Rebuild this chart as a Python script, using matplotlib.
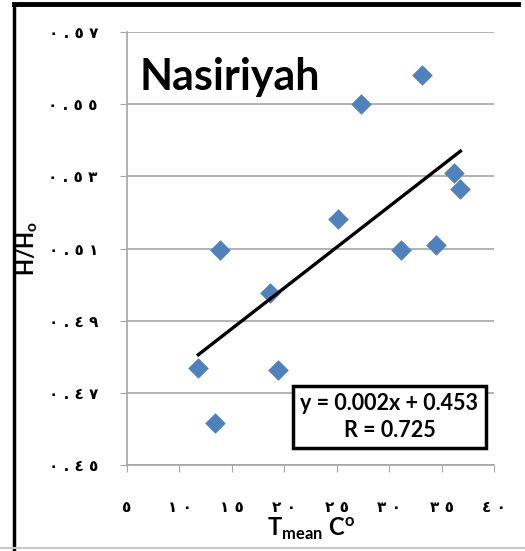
import matplotlib.pyplot as plt
import numpy as np
from matplotlib.lines import Line2D

# Data
t_mean = np.array([11.8, 13.4, 13.9, 18.6, 19.4, 25.1, 27.3, 31.1, 33.1, 34.5, 36.2, 36.8])
h_ratio = np.array([0.477, 0.4617, 0.5097, 0.4978, 0.4764, 0.5183, 0.5500, 0.5097,
                    0.5581, 0.5111, 0.5308, 0.5264])
x_ticks = [5, 10, 15, 20, 25, 30, 35, 40]
x_ticklabels = ["٥", "١ ٠", "١ ٥", "٢ ٠", "٢ ٥", "٣ ٠", "٣ ٥", "٤ ٠"]
y_ticks = [0.45, 0.47, 0.49, 0.51, 0.53, 0.55, 0.57]
y_ticklabels = ["٠ . ٤ ٥", "٠ . ٤ ٧", "٠ . ٤ ٩", "٠ . ٥ ١", "٠ . ٥ ٣", "٠ . ٥ ٥", "٠ . ٥ ٧"]

plt.rcParams['font.family'] = ['Lato', 'DejaVu Sans']
plt.rcParams['mathtext.default'] = 'regular'

fig = plt.figure(figsize=(5.25, 5.51), dpi=100)
ax = fig.add_axes([0.242, 0.156, 0.699, 0.786])

grid_col = "#A6A6A6"
ax.scatter(t_mean, h_ratio, marker="D", s=110, color="#4F81BD", zorder=3, linewidths=0)

# linear trend line
coef = np.polyfit(t_mean, h_ratio, 1)
xf = np.array([t_mean.min(), t_mean.max()])
ax.plot(xf, np.polyval(coef, xf), color="black", linewidth=2.4, zorder=4)

ax.set_xlim(5, 40)
ax.set_ylim(0.45, 0.57)
ax.set_xticks(x_ticks)
ax.set_xticklabels(x_ticklabels, fontsize=11, fontweight="bold", family="DejaVu Sans")
ax.set_yticks(y_ticks)
ax.set_yticklabels(y_ticklabels, fontsize=11, fontweight="bold", family="DejaVu Sans")
ax.tick_params(axis="x", length=5, color=grid_col, pad=20)
ax.tick_params(axis="y", length=5, color=grid_col, pad=16)

ax.grid(True, axis="y", color=grid_col, linewidth=1.2)
for s in ["top", "right"]:
    ax.spines[s].set_visible(False)
for s in ["left", "bottom"]:
    ax.spines[s].set_color(grid_col)
    ax.spines[s].set_linewidth(1.2)

ax.set_xlabel("T$_{mean}$ C$^{o}$", fontsize=17, fontweight="bold", labelpad=1)
ax.set_ylabel("H/H$_{o}$", fontsize=16, fontweight="bold", labelpad=6)

ax.text(0.035, 0.895, "Nasiriyah", transform=ax.transAxes, fontsize=31,
        fontweight="bold", va="center", ha="left")

ax.text(0.715, 0.111, "y = 0.002x + 0.453\nR = 0.725", transform=ax.transAxes,
        fontsize=15.5, fontweight="bold", ha="center", va="center", linespacing=1.3,
        bbox=dict(boxstyle="square,pad=0.35", facecolor="white", edgecolor="black",
                  linewidth=2.5), zorder=5)

# chart frame (partly cropped)
fig.add_artist(Line2D([0.026, 0.987], [0.992, 0.992], color="black", linewidth=3.5))
fig.add_artist(Line2D([0.027, 0.027], [0.0, 0.992], color="black", linewidth=2.5))
fig.add_artist(Line2D([0.0, 1.0], [0.005, 0.005], color="#C8C8C8", linewidth=1.5))

plt.savefig("out.png", dpi=100)
